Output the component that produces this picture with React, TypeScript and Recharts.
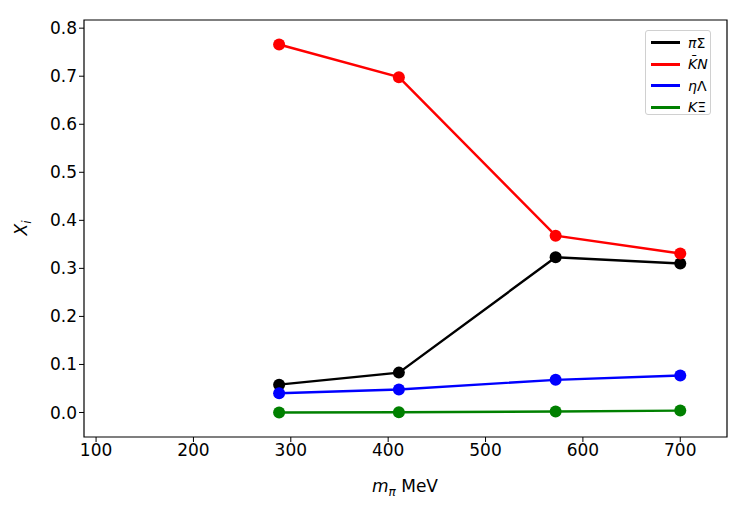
import { LineChart, Line, XAxis, YAxis, ReferenceArea, Label } from "recharts";

const mpi = [288, 411, 572, 700];
const piSigma = [0.058, 0.083, 0.323, 0.31];
const kbarN = [0.766, 0.698, 0.368, 0.331];
const etaLambda = [0.04, 0.048, 0.068, 0.077];
const kXi = [0.0, 0.0005, 0.002, 0.004];

const xTicks = [100, 200, 300, 400, 500, 600, 700];
const yTicks = [0, 0.1, 0.2, 0.3, 0.4, 0.5, 0.6, 0.7, 0.8];

const X_DOMAIN: [number, number] = [87.6, 748];
const Y_DOMAIN: [number, number] = [-0.051, 0.817];

// legend label: italic part then upright part (mathtext style)
const series = [
  { key: "piSigma", color: "#000000", it: "π", up: "Σ" },
  { key: "kbarN", color: "#ff0000", it: "K̄N", up: "" },
  { key: "etaLambda", color: "#0000ff", it: "η", up: "Λ" },
  { key: "kXi", color: "#008000", it: "K", up: "Ξ" },
];

const data = mpi.map((m, i) => ({
  mpi: m,
  piSigma: piSigma[i],
  kbarN: kbarN[i],
  etaLambda: etaLambda[i],
  kXi: kXi[i],
}));

const font = "'DejaVu Sans', sans-serif";

function LegendBox() {
  return (
    <div
      style={{
        position: "absolute",
        left: 645,
        top: 30,
        width: 66,
        height: 85,
        boxSizing: "border-box",
        border: "1px solid #d0d0d0",
        borderRadius: 3,
        background: "#fff",
        padding: "1px 0 0 5px",
        fontFamily: font,
        fontSize: 14,
      }}
    >
      {series.map((s) => (
        <div key={s.key} style={{ display: "flex", alignItems: "center", height: 21.5 }}>
          <div style={{ width: 29, height: 3, background: s.color, marginRight: 8 }} />
          <span>
            <span style={{ fontStyle: "italic" }}>{s.it}</span>
            {s.up}
          </span>
        </div>
      ))}
    </div>
  );
}

export default function App() {
  return (
    <div style={{ position: "fixed", left: 0, top: 0, width: 747, height: 510, background: "#fff" }}>
      <LineChart
        width={747}
        height={510}
        data={data}
        margin={{ top: 20, right: 20, bottom: 0, left: 0 }}
      >
        <XAxis
          type="number"
          dataKey="mpi"
          domain={X_DOMAIN}
          ticks={xTicks}
          allowDataOverflow
          height={73}
          stroke="#000"
          tickSize={5}
          tick={{ fill: "#000", fontSize: 17, fontFamily: font }}
          axisLine={false}
        >
          <Label
            content={() => (
              <text x={405} y={492} textAnchor="middle" fontFamily={font} fontSize={17} fill="#000">
                <tspan fontStyle="italic">m</tspan>
                <tspan fontStyle="italic" fontSize={12} dy={4}>π</tspan>
                <tspan dy={-4}> MeV</tspan>
              </text>
            )}
          />
        </XAxis>
        <YAxis
          type="number"
          domain={Y_DOMAIN}
          ticks={yTicks}
          allowDataOverflow
          width={84}
          stroke="#000"
          tickSize={5}
          tickFormatter={(v: number) => v.toFixed(1)}
          tick={{ fill: "#000", fontSize: 17, fontFamily: font }}
          axisLine={false}
        >
          <Label
            content={() => (
              <text
                x={27}
                y={228}
                textAnchor="middle"
                transform="rotate(-90 27 228)"
                fontFamily={font}
                fontSize={17}
                fill="#000"
              >
                <tspan fontStyle="italic">X</tspan>
                <tspan fontStyle="italic" fontSize={12} dy={4}>i</tspan>
              </text>
            )}
          />
        </YAxis>
        <ReferenceArea
          x1={X_DOMAIN[0]}
          x2={X_DOMAIN[1]}
          y1={Y_DOMAIN[0]}
          y2={Y_DOMAIN[1]}
          fill="none"
          stroke="#000"
          strokeWidth={1.2}
        />
        {series.map((s) => (
          <Line
            key={s.key}
            dataKey={s.key}
            type="linear"
            stroke={s.color}
            strokeWidth={2.4}
            dot={{ r: 6, fill: s.color, stroke: "none" }}
            activeDot={false}
            isAnimationActive={false}
          />
        ))}
      </LineChart>
      <LegendBox />
    </div>
  );
}
